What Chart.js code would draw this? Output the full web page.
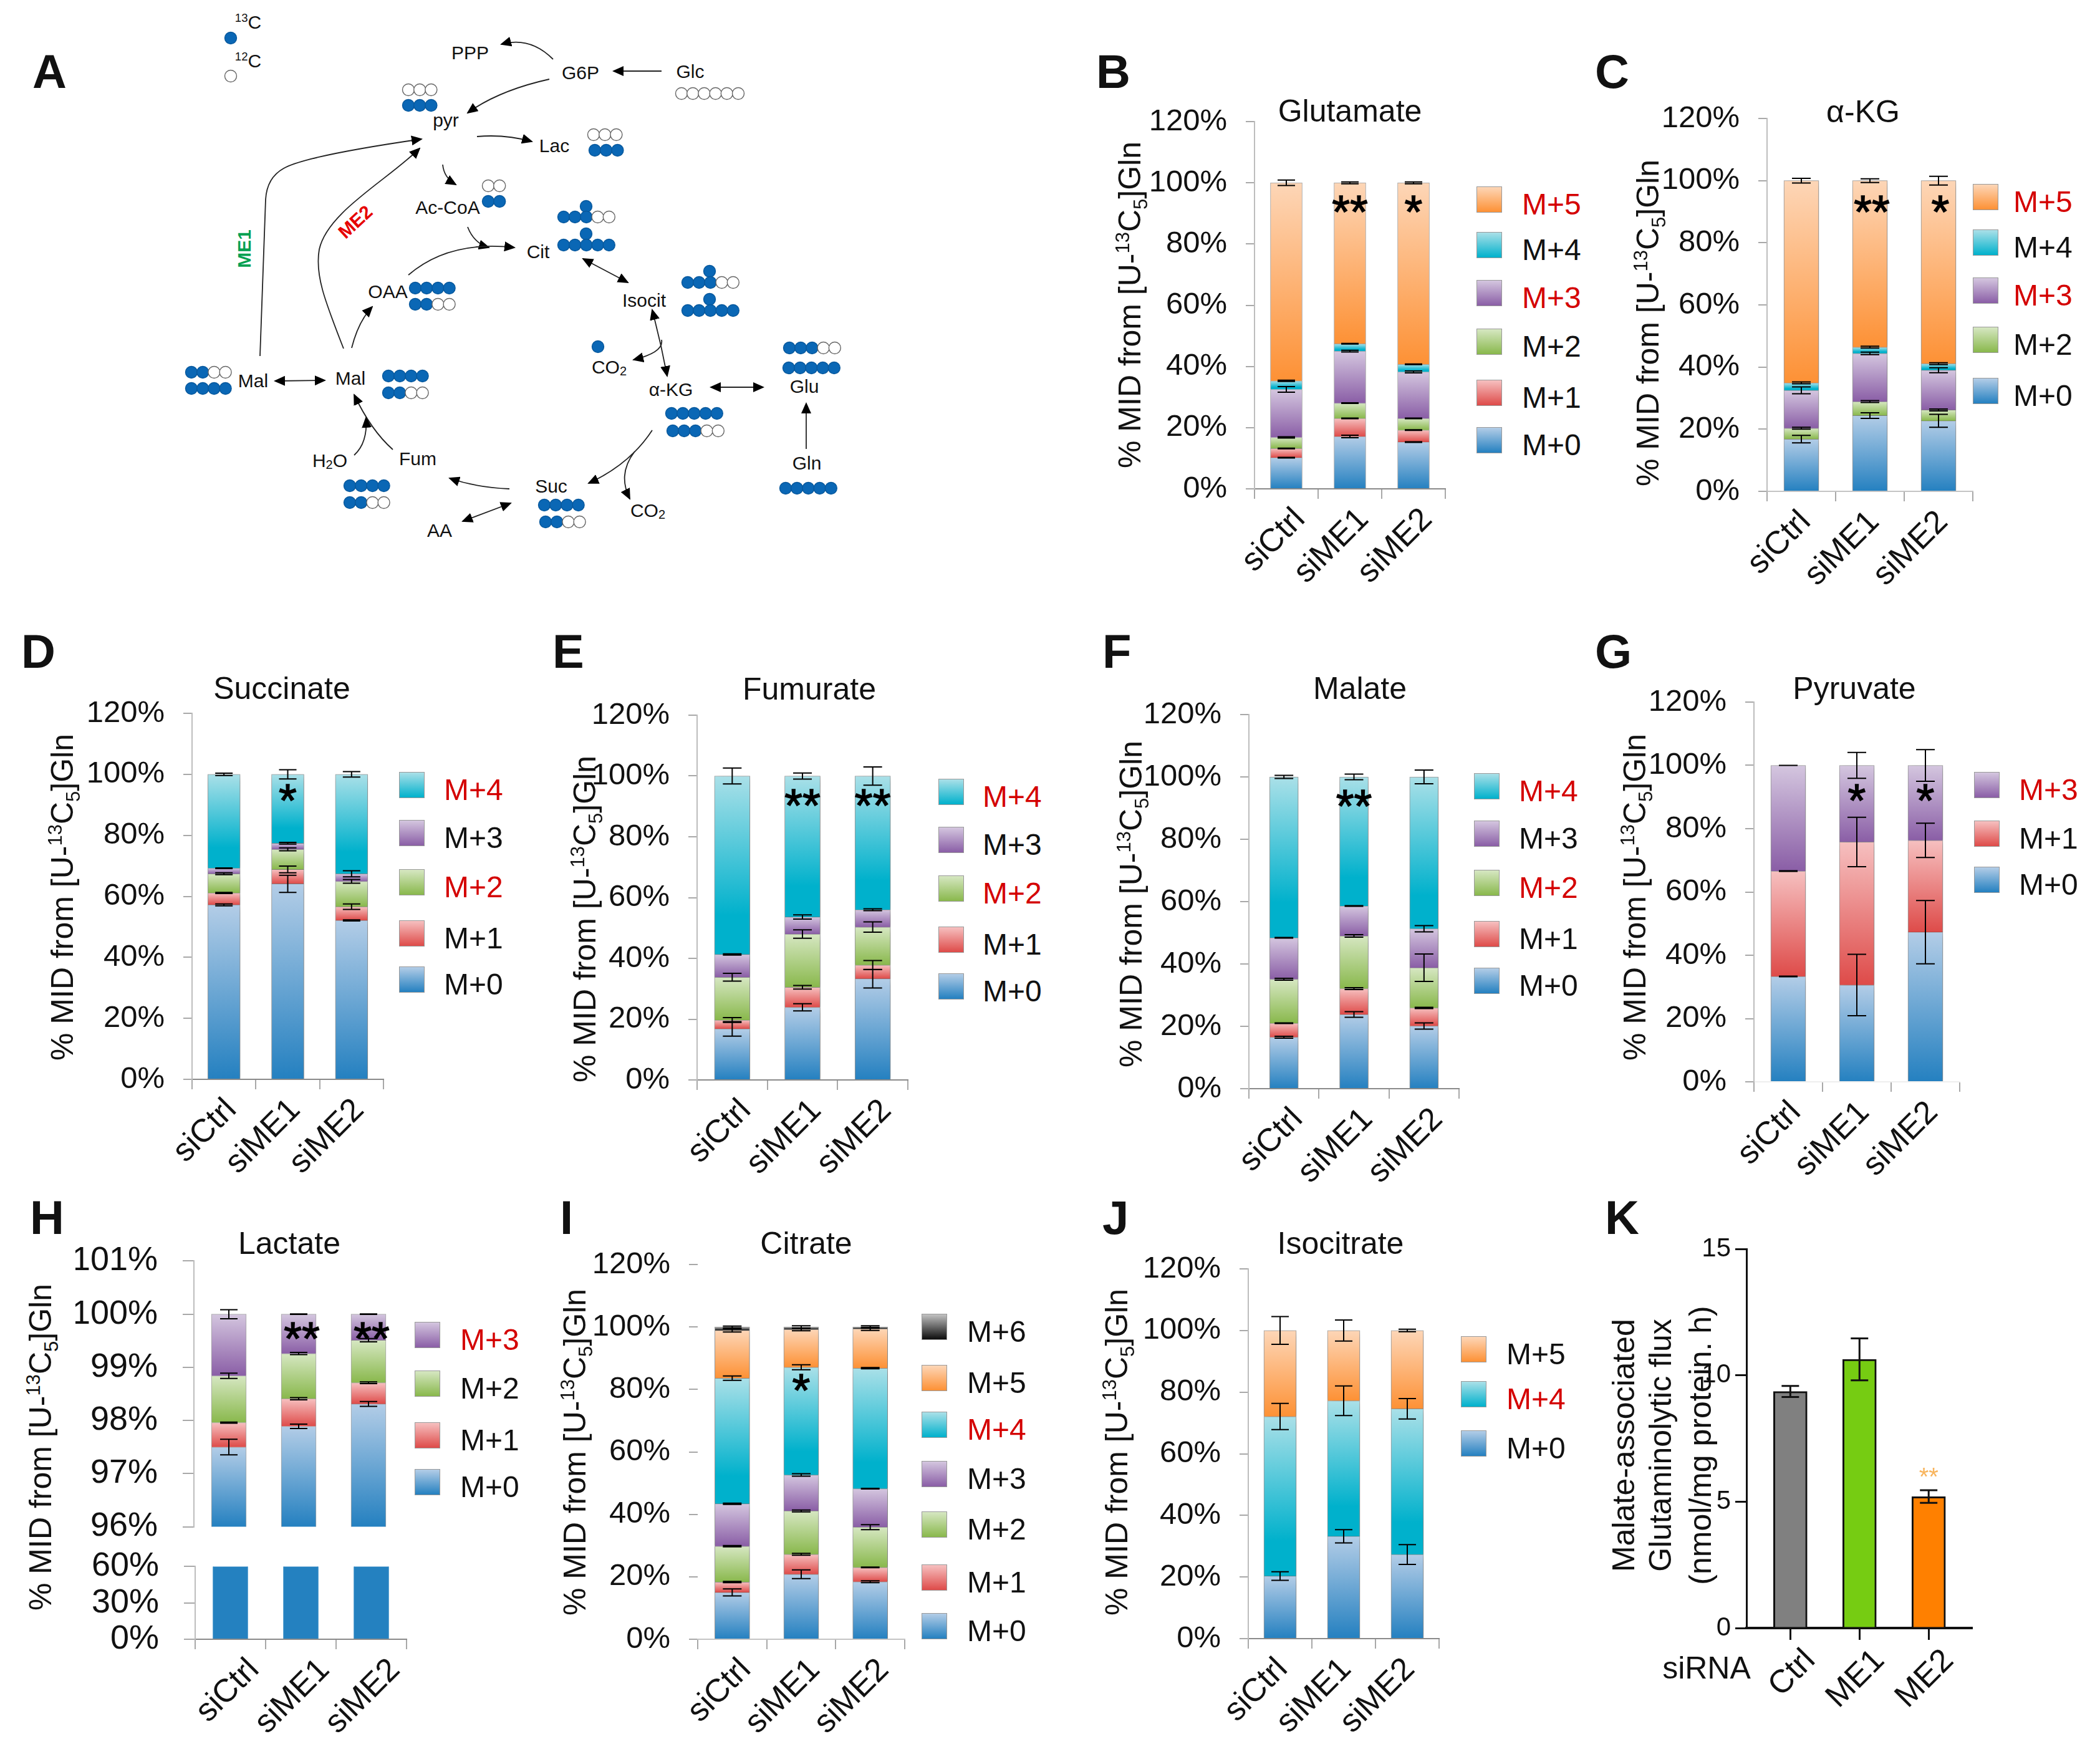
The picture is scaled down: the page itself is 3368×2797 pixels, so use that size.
<!DOCTYPE html>
<html>
<head>
<meta charset="utf-8">
<script src="https://cdn.jsdelivr.net/npm/chart.js@4"></script>
<style>
  html, body { margin: 0; background: #fff; }
  #page { position: relative; width: 3368px; height: 2797px; overflow: hidden; font-family: "Liberation Sans", Arial, sans-serif; color: #111; }
  #page canvas { position: absolute; }
  .t { position: absolute; white-space: nowrap; line-height: 1; transform: translate(-50%, -50%); }
  .t sup, .t sub { font-size: 62%; line-height: 0; }
  .swatch { position: absolute; width: 41px; height: 42px; box-sizing: border-box; border: 1px solid #999; }
  svg { position: absolute; left: 0; top: 0; }
  svg text { font-size: 30px; text-anchor: middle; dominant-baseline: central; fill: #111; }
</style>
</head>
<body>
<div id="page"></div>
<script>
const samples = ['siCtrl', 'siME1', 'siME2'];

// one row per isotopologue (bottom to top), one column per sample
const glutamateIso = ['M+0', 'M+1', 'M+2', 'M+3', 'M+4', 'M+5'];
const glutamate = [[10.2, 17.1, 15.3], [3.0, 5.9, 3.9], [3.6, 5.0, 3.8], [15.7, 17.0, 15.2], [2.8, 2.4, 2.5], [64.7, 52.6, 59.3]];
const glutamateErr = [[0.1, 0.4, 0.1], [0.1, 0.1, 0.1], [0.2, 0.1, 0.1], [0.9, 0.3, 0.3], [0.2, 0.1, 0.1], [0.9, 0.3, 0.3]];

const akgIso = ['M+0', 'M+2', 'M+3', 'M+4', 'M+5'];
const akg = [[16.8, 24.4, 22.7], [3.5, 4.5, 3.5], [12.2, 15.5, 12.8], [2.4, 2.0, 2.1], [65.1, 53.6, 58.9]];
const akgErr = [[1.2, 0.9, 2.1], [0.3, 0.3, 0.3], [1.1, 0.4, 0.8], [0.3, 0.3, 0.3], [0.75, 0.6, 1.4]];

const succinateIso = ['M+0', 'M+1', 'M+2', 'M+3', 'M+4'];
const succinate = [[57.2, 64.1, 52.1], [3.9, 4.7, 4.5], [6.3, 6.6, 8.3], [1.8, 2.0, 2.5], [30.8, 22.6, 32.6]];
const succinateErr = [[0.3, 2.8, 0.2], [0.2, 1.1, 0.9], [0.3, 0.5, 0.6], [0.1, 0.3, 1.0], [0.4, 1.5, 0.9]];

const fumarateIso = ['M+0', 'M+1', 'M+2', 'M+3', 'M+4'];
const fumarate = [[16.8, 23.9, 33.3], [2.9, 6.6, 4.5], [14.1, 17.5, 12.5], [7.5, 5.6, 5.7], [58.7, 46.4, 44.0]];
const fumarateErr = [[2.4, 1.2, 3.05], [0.8, 0.6, 1.5], [1.3, 1.4, 1.7], [0.2, 0.7, 0.3], [2.6, 1.0, 3.0]];

const malateIso = ['M+0', 'M+1', 'M+2', 'M+3', 'M+4'];
const malate = [[16.5, 23.8, 20.1], [4.5, 8.3, 5.8], [14.1, 16.9, 12.9], [13.3, 9.6, 12.5], [51.6, 41.4, 48.7]];
const malateErr = [[0.3, 0.9, 1.0], [0.1, 0.3, 0.2], [0.3, 0.4, 4.4], [0.1, 0.1, 1.0], [0.5, 0.9, 2.2]];

const pyruvateIso = ['M+0', 'M+1', 'M+3'];
const pyruvate = [[33.3, 30.6, 47.3], [33.3, 45.2, 29.0], [33.4, 24.2, 23.7]];
const pyruvateErr = [[0.1, 9.7, 10.0], [0.1, 7.8, 5.4], [0, 4.1, 5.0]];

const lactateIso = ['M+0', 'M+1', 'M+2', 'M+3'];
const lactate = [[97.5, 97.89, 98.31], [0.46, 0.52, 0.40], [0.88, 0.85, 0.80], [1.16, 0.74, 0.49]];
const lactateErr = [[0.146, 0.04, 0.045], [0.01, 0.02, 0.015], [0.05, 0.02, 0.03], [0.085, 0.005, 0.005]];

const citrateIso = ['M+0', 'M+1', 'M+2', 'M+3', 'M+4', 'M+5', 'M+6'];
const citrate = [[15.0, 20.8, 18.4], [3.3, 6.4, 4.6], [11.5, 13.9, 12.9], [13.6, 11.5, 12.3], [40.2, 34.5, 38.6], [15.3, 12.1, 12.6], [1.1, 0.8, 0.6]];
const citrateErr = [[1.1, 1.4, 0.3], [0.2, 0.3, 0.1], [0.2, 0.3, 0.8], [0.2, 0.4, 0.1], [0.7, 0.8, 0.2], [0.5, 0.4, 0.5], [0.3, 0.4, 0.4]];

const isocitrateIso = ['M+0', 'M+4', 'M+5'];
const isocitrate = [[20.3, 33.2, 27.3], [51.8, 44.0, 47.3], [27.9, 22.8, 25.4]];
const isocitrateErr = [[1.4, 2.15, 3.2], [4.25, 4.8, 3.3], [4.5, 3.4, 0.4]];

const fluxLabels = ['Ctrl', 'ME1', 'ME2'];
const flux = [9.36, 10.63, 5.2];
const fluxErr = [0.22, 0.83, 0.25];

const percentTicks = [0, 20, 40, 60, 80, 100, 120];
const lactateTopTicks = [96, 97, 98, 99, 100, 101];
const lactateBottomTicks = [0, 30, 60];
const fluxTicks = [0, 5, 10, 15];

// top light, bottom saturated, last number = where saturation is reached
const isoColors = {
  'M+0': ['#b3cde7', '#2480c0', 1],
  'M+1': ['#f6c0c0', '#de4b49', 1],
  'M+2': ['#d6e7c2', '#89b84c', 1],
  'M+3': ['#d4c6df', '#8a5ea6', 1],
  'M+4': ['#aae0e8', '#00b1cc', 0.78],
  'M+5': ['#fdd6b7', '#fd9135', 1],
  'M+6': ['#c2c2c2', '#0c0c0c', 1]
};
const red = '#d40000';
const page = document.getElementById('page');

function text(html, x, y, size, opts) {
  opts = opts || {};
  const d = document.createElement('div');
  d.className = 't';
  d.innerHTML = html;
  d.style.left = x + 'px';
  d.style.top = y + 'px';
  d.style.fontSize = size + 'px';
  if (opts.bold) d.style.fontWeight = 'bold';
  if (opts.color) d.style.color = opts.color;
  if (opts.left) d.style.transform = 'translate(0,-50%)';
  if (opts.rot) d.style.transform = 'translate(-50%,-50%) rotate(' + opts.rot + 'deg)';
  page.appendChild(d);
}

function panelLetter(ch, x, baseline) {
  const d = document.createElement('div');
  d.className = 't';
  d.textContent = ch;
  d.style.cssText = 'left:' + x + 'px;top:' + (baseline - 65) + 'px;font-size:76px;font-weight:bold;transform:none;line-height:76px';
  page.appendChild(d);
}

const yTitle = '% MID from [U-<sup>13</sup>C<sub>5</sub>]Gln';

function legend(names, redNames, x, tops, textX) {
  // top of the list is the last isotopologue
  names.slice().reverse().forEach((name, i) => {
    const c = isoColors[name];
    const s = document.createElement('div');
    s.className = 'swatch';
    s.style.left = x + 'px';
    s.style.top = tops[i] + 'px';
    s.style.background = 'linear-gradient(' + c[0] + ',' + c[1] + ')';
    page.appendChild(s);
    text(name, textX, tops[i] + 29, 48, { left: true, color: redNames.includes(name) ? red : '#111' });
  });
}

function errorBarsPlugin(series, errs, capW, lineW) {
  return {
    id: 'errorBars',
    afterDatasetsDraw(chart) {
      const c = chart.ctx, xs = chart.scales.x, ys = chart.scales.y;
      c.save();
      c.strokeStyle = '#000';
      c.lineWidth = lineW;
      samples.forEach((s, i) => {
        let cum = 0;
        series.forEach((row, k) => {
          cum += row[i];
          const px = xs.getPixelForValue(i);
          const hi = ys.getPixelForValue(cum + errs[k][i]);
          const lo = ys.getPixelForValue(cum - errs[k][i]);
          c.beginPath();
          c.moveTo(px, hi); c.lineTo(px, lo);
          c.moveTo(px - capW, hi); c.lineTo(px + capW, hi);
          c.moveTo(px - capW, lo); c.lineTo(px + capW, lo);
          c.stroke();
        });
      });
      c.restore();
    }
  };
}

function starsPlugin(stars, level, shift) {
  return {
    id: 'stars',
    afterDraw(chart) {
      const c = chart.ctx;
      c.save();
      c.font = '74px "Liberation Sans"';
      c.fillStyle = '#000';
      c.strokeStyle = '#000';
      c.lineWidth = 1.5;
      c.textAlign = 'center';
      c.textBaseline = 'middle';
      stars.forEach((s, i) => {
        if (!s) return;
        const px = chart.scales.x.getPixelForValue(i) + (shift || 0), py = chart.scales.y.getPixelForValue(level) + 18;
        c.fillText(s, px, py);
        c.strokeText(s, px, py);
      });
      c.restore();
    }
  };
}

const shadowPlugin = {
  id: 'softShadow',
  beforeDatasetDraw(chart) {
    const c = chart.ctx;
    c.shadowColor = 'rgba(0,0,0,0.28)';
    c.shadowBlur = 12;
    c.shadowOffsetX = 3;
    c.shadowOffsetY = 3;
  },
  afterDatasetDraw(chart) {
    const c = chart.ctx;
    c.shadowColor = 'transparent';
    c.shadowBlur = 0;
    c.shadowOffsetX = 0;
    c.shadowOffsetY = 0;
  }
};

function newCanvas(left, top, w, h) {
  const cv = document.createElement('canvas');
  cv.width = w; cv.height = h;
  cv.style.left = left + 'px';
  cv.style.top = top + 'px';
  page.appendChild(cv);
  return cv;
}

function segmentFill(iso, series, k) {
  return ctx => {
    const c = isoColors[iso];
    if (ctx.type !== 'data') return c[1];
    const y = ctx.chart.scales.y, i = ctx.dataIndex;
    let cum = 0;
    for (let j = 0; j < k; j++) cum += series[j][i];
    const top = y.getPixelForValue(cum + series[k][i]);
    const bottom = y.getPixelForValue(Math.max(cum, y.min));
    if (!isFinite(top) || !isFinite(bottom)) return c[1];
    const g = ctx.chart.ctx.createLinearGradient(0, top, 0, bottom);
    g.addColorStop(0, c[0]);
    g.addColorStop(c[2], c[1]);
    g.addColorStop(1, c[1]);
    return g;
  };
}

// p: plot rect in page pixels, series drawn as stacked bars through Chart.js scales
function stackedChart(p) {
  const L = 190, T = 70, R = 40, B = p.noX ? 70 : 240;
  const cv = newCanvas(p.x0 - L, p.yTop - T, p.x1 - p.x0 + L + R, p.yBottom - p.yTop + T + B);
  const plugins = [];
  if (p.shadow) plugins.push(shadowPlugin);
  if (p.errs) plugins.push(errorBarsPlugin(p.series, p.errs, p.capW || 14, 2));
  if (p.stars) plugins.push(starsPlugin(p.stars, p.starLevel, p.starShift));
  return new Chart(cv, {
    type: 'bar',
    data: {
      labels: samples,
      datasets: p.series.map((row, k) => ({
        label: p.iso[k],
        data: row,
        backgroundColor: p.solid || segmentFill(p.iso[k], p.series, k),
        borderColor: p.solid ? p.solid : 'rgba(50,50,50,0.45)',
        borderWidth: 1,
        barThickness: p.barW
      }))
    },
    options: {
      responsive: false,
      animation: false,
      devicePixelRatio: 1,
      layout: { padding: { top: T, right: R, bottom: p.noX ? B : 0, left: 0 } },
      plugins: { legend: { display: false }, tooltip: { enabled: false } },
      scales: {
        x: {
          display: !p.noX,
          stacked: true,
          afterFit: s => { s.height = p.noX ? 0 : B; },
          border: { color: p.xLine || '#8a8a8a', width: 2 },
          grid: { drawOnChartArea: false, tickLength: 16, color: '#a8a8a8', lineWidth: 2 },
          ticks: { autoSkip: false, maxRotation: 45, minRotation: 45, padding: 3, labelOffset: p.labelOffset === undefined ? 22 : p.labelOffset, color: '#111', font: { family: 'Liberation Sans', size: 52 } }
        },
        y: {
          stacked: true,
          min: p.ticks[0],
          max: p.ticks[p.ticks.length - 1],
          afterFit: s => { s.width = L; },
          afterBuildTicks: s => { s.ticks = p.ticks.map(v => ({ value: v })); },
          border: { display: p.yLine !== 'none', color: p.yLine || '#bdbdbd', width: 2 },
          grid: { drawOnChartArea: false, tickLength: p.tickLen || 14, color: '#a8a8a8', lineWidth: 2 },
          ticks: { autoSkip: false, padding: p.tickPad || 30, color: '#111', callback: v => v + '%', font: { family: 'Liberation Sans', size: p.tickSize || 49 } }
        }
      }
    },
    plugins
  });
}

// panel B
stackedChart({ x0: 2012, x1: 2318, yTop: 195, yBottom: 784, series: glutamate, errs: glutamateErr, iso: glutamateIso, ticks: percentTicks, barW: 51, stars: ['', '**', '*'], starLevel: 93.2 });
text('Glutamate', 2165, 178, 50);
text(yTitle, 1812, 489, 50, { rot: -90 });
legend(glutamateIso, ['M+5', 'M+3'], 2368, [299, 372, 449, 527, 609, 685], 2441);
panelLetter('B', 1758, 142);

// panel C
stackedChart({ x0: 2834, x1: 3164, yTop: 190, yBottom: 788, series: akg, errs: akgErr, iso: akgIso, ticks: percentTicks, barW: 56, stars: ['', '**', '*'], starLevel: 92.6, starShift: 3, shadow: true, xLine: '#c4c4c4', capW: 15, labelOffset: 7 });
text('α-KG', 2988, 179, 50);
text(yTitle, 2643, 518, 50, { rot: -90 });
legend(akgIso, ['M+5', 'M+3'], 3164, [295, 368, 445, 524, 606], 3229);
panelLetter('C', 2558, 142);

// panel D
stackedChart({ x0: 308, x1: 615, yTop: 1144, yBottom: 1731, series: succinate, errs: succinateErr, iso: succinateIso, ticks: percentTicks, barW: 52, stars: ['', '*', ''], starLevel: 94.1, shadow: true, capW: 14, labelOffset: 12 });
text('Succinate', 452, 1104, 50);
text(yTitle, 100, 1439, 50, { rot: -90 });
legend(succinateIso, ['M+4', 'M+2'], 640, [1238, 1315, 1394, 1476, 1550], 712);
panelLetter('D', 34, 1072);

// panel E
stackedChart({ x0: 1118, x1: 1456, yTop: 1147, yBottom: 1732, series: fumarate, errs: fumarateErr, iso: fumarateIso, ticks: percentTicks, barW: 57, stars: ['', '**', '**'], starLevel: 93, shadow: true, capW: 15 });
text('Fumurate', 1298, 1105, 50);
text(yTitle, 938, 1474, 50, { rot: -90 });
legend(fumarateIso, ['M+4', 'M+2'], 1505, [1249, 1326, 1404, 1486, 1561], 1576);
panelLetter('E', 886, 1072);

// panel F
stackedChart({ x0: 2003, x1: 2340, yTop: 1146, yBottom: 1746, series: malate, errs: malateErr, iso: malateIso, ticks: percentTicks, barW: 46, stars: ['', '**', ''], starLevel: 93.2, shadow: true, capW: 15 });
text('Malate', 2181, 1104, 50);
text(yTitle, 1814, 1450, 50, { rot: -90 });
legend(malateIso, ['M+4', 'M+2'], 2364, [1240, 1316, 1395, 1477, 1552], 2436);
panelLetter('F', 1768, 1072);

// panel G
stackedChart({ x0: 2813, x1: 3143, yTop: 1126, yBottom: 1735, series: pyruvate, errs: pyruvateErr, iso: pyruvateIso, ticks: percentTicks, barW: 56, stars: ['', '*', '*'], starLevel: 91.5, shadow: true, xLine: '#eeeeee', capW: 15, labelOffset: 12 });
text('Pyruvate', 2974, 1104, 50);
text(yTitle, 2622, 1439, 50, { rot: -90 });
legend(pyruvateIso, ['M+3'], 3166, [1238, 1316, 1390], 3238);
panelLetter('G', 2558, 1072);

// panel H, broken axis: two charts of the same series
stackedChart({ x0: 311, x1: 647, yTop: 2020, yBottom: 2451, series: lactate, errs: lactateErr, iso: lactateIso, ticks: lactateTopTicks, barW: 56, stars: ['', '**', '**'], starLevel: 99.69, starShift: 5, noX: true, capW: 14, tickSize: 54, tickLen: 18, tickPad: 40 });
stackedChart({ x0: 313, x1: 652, yTop: 2510, yBottom: 2629, series: [lactate[0]], iso: ['M+0'], ticks: lactateBottomTicks, barW: 56, solid: '#2481c0', labelOffset: 38, tickSize: 54, tickLen: 18, tickPad: 40 });
text('Lactate', 464, 1994, 50);
text(yTitle, 65, 2321, 50, { rot: -90 });
legend(lactateIso, ['M+3'], 665, [2120, 2198, 2281, 2356], 738);
panelLetter('H', 48, 1980);

// panel I
stackedChart({ x0: 1119, x1: 1451, yTop: 2028, yBottom: 2629, series: citrate, errs: citrateErr, iso: citrateIso, ticks: percentTicks, barW: 56, stars: ['', '*', ''], starLevel: 82.3, shadow: true, yLine: 'none', xLine: '#c4c4c4', capW: 15 });
text('Citrate', 1293, 1994, 50);
text(yTitle, 922, 2329, 50, { rot: -90 });
legend(citrateIso, ['M+4'], 1478, [2107, 2189, 2264, 2343, 2424, 2509, 2587], 1551);
panelLetter('I', 898, 1980);

// panel J
stackedChart({ x0: 2002, x1: 2308, yTop: 2035, yBottom: 2628, series: isocitrate, errs: isocitrateErr, iso: isocitrateIso, ticks: percentTicks, barW: 52, shadow: true, capW: 14, labelOffset: 4 });
text('Isocitrate', 2150, 1994, 50);
text(yTitle, 1791, 2329, 50, { rot: -90 });
legend(isocitrateIso, ['M+4'], 2343, [2143, 2215, 2294], 2416);
panelLetter('J', 1768, 1980);

// panel K, x is linear so the axis can run past the bars
(function () {
  const x0 = 2801, x1 = 3162, yTop = 2003, yBottom = 2611, L = 190, T = 50, R = 40, B = 240;
  const cv = newCanvas(x0 - L, yTop - T, x1 - x0 + L + R, yBottom - yTop + T + B);
  new Chart(cv, {
    type: 'bar',
    data: {
      datasets: [{
        data: flux.map((y, x) => ({ x, y })),
        backgroundColor: ['#808080', '#76cc12', '#ff8000'],
        borderColor: '#111',
        borderWidth: 3,
        barThickness: 54
      }]
    },
    options: {
      responsive: false,
      animation: false,
      devicePixelRatio: 1,
      layout: { padding: { top: T, right: R, bottom: 0, left: 0 } },
      plugins: { legend: { display: false }, tooltip: { enabled: false } },
      scales: {
        x: {
          type: 'linear',
          offset: false,
          min: -0.634,
          max: 2.62,
          afterFit: s => { s.height = B; },
          afterBuildTicks: s => { s.ticks = fluxLabels.map((l, i) => ({ value: i })); },
          border: { color: '#111', width: 4 },
          grid: { offset: false, drawOnChartArea: false, tickLength: 19, color: '#111', lineWidth: 3 },
          ticks: { autoSkip: false, maxRotation: 45, minRotation: 45, padding: 3, labelOffset: 32, color: '#111', callback: v => fluxLabels[v], font: { family: 'Liberation Sans', size: 52 } }
        },
        y: {
          min: fluxTicks[0],
          max: fluxTicks[fluxTicks.length - 1],
          afterFit: s => { s.width = L; },
          afterBuildTicks: s => { s.ticks = fluxTicks.map(v => ({ value: v })); },
          border: { color: '#111', width: 3 },
          grid: { drawOnChartArea: false, tickLength: 18, color: '#111', lineWidth: 3 },
          ticks: { autoSkip: false, padding: 7, color: '#111', font: { family: 'Liberation Sans', size: 42 } }
        }
      }
    },
    plugins: [{
      id: 'fluxMarks',
      afterDatasetsDraw(chart) {
        const c = chart.ctx, xs = chart.scales.x, ys = chart.scales.y;
        c.save();
        c.strokeStyle = '#111';
        c.lineWidth = 3;
        flux.forEach((v, i) => {
          const px = xs.getPixelForValue(i), hi = ys.getPixelForValue(v + fluxErr[i]), lo = ys.getPixelForValue(v - fluxErr[i]);
          c.beginPath();
          c.moveTo(px, hi); c.lineTo(px, lo);
          c.moveTo(px - 14, hi); c.lineTo(px + 14, hi);
          c.moveTo(px - 14, lo); c.lineTo(px + 14, lo);
          c.stroke();
        });
        c.font = '40px "Liberation Sans"';
        c.fillStyle = '#f8b55e';
        c.textAlign = 'center';
        c.textBaseline = 'middle';
        c.fillText('**', xs.getPixelForValue(2), ys.getPixelForValue(6.12) + 8);
        c.restore();
      }
    }]
  });
})();
text('Malate-associated', 2604, 2318, 50, { rot: -90 });
text('Glutaminolytic flux', 2663, 2318, 50, { rot: -90 });
text('(nmol/mg protein. h)', 2727, 2318, 50, { rot: -90 });
text('siRNA', 2737, 2675, 50);
panelLetter('K', 2574, 1980);

// panel A, pathway sketch
panelLetter('A', 52, 142);
const NS = 'http://www.w3.org/2000/svg';
const svg = document.createElementNS(NS, 'svg');
svg.setAttribute('width', 1400);
svg.setAttribute('height', 900);
page.appendChild(svg);

const defs = document.createElementNS(NS, 'defs');
defs.innerHTML = '<marker id="head" markerUnits="userSpaceOnUse" markerWidth="18" markerHeight="16" refX="16" refY="8" orient="auto-start-reverse"><path d="M0 0L18 8L0 16Z" fill="#000"/></marker>';
svg.appendChild(defs);

function arrow(d, both) {
  const p = document.createElementNS(NS, 'path');
  p.setAttribute('d', d);
  p.setAttribute('fill', 'none');
  p.setAttribute('stroke', '#222');
  p.setAttribute('stroke-width', 1.8);
  p.setAttribute('marker-end', 'url(#head)');
  if (both) p.setAttribute('marker-start', 'url(#head)');
  svg.appendChild(p);
}
function dots(pattern, x, y, step) {
  [...pattern].forEach((ch, i) => {
    const c = document.createElementNS(NS, 'circle');
    c.setAttribute('cx', x + i * (step || 18.2));
    c.setAttribute('cy', y);
    c.setAttribute('r', 9.5);
    c.setAttribute('fill', ch === 'o' ? '#fff' : '#0a67b5');
    c.setAttribute('stroke', ch === 'o' ? '#666' : '#08589c');
    c.setAttribute('stroke-width', 1.4);
    svg.appendChild(c);
  });
}
function node(label, x, y) {
  const t = document.createElementNS(NS, 'text');
  t.setAttribute('x', x);
  t.setAttribute('y', y);
  t.innerHTML = label;
  svg.appendChild(t);
}
const sub2 = '<tspan font-size="20" dy="7">2</tspan>';
arrow('M887 95 Q850 58 804 71');
arrow('M881 127 Q800 145 750 181');
arrow('M1061 114 L984 114');
arrow('M765 219 Q810 215 853 227');
arrow('M710 264 Q712 285 731 296');
arrow('M750 364 Q760 390 784 397');
arrow('M655 441 Q720 385 825 397');
arrow('M935 415 L1007 453', true);
arrow('M1046 497 Q1060 550 1070 603', true);
arrow('M1061 545 Q1065 565 1016 577');
arrow('M564 558 Q575 515 597 492');
arrow('M441 611 L521 610', true);
arrow('M417 571 L426 320 Q428 285 455 270 Q490 250 676 223');
arrow('M551 559 C520 480 505 440 512 400 C525 340 620 290 673 238');
arrow('M630 721 Q595 690 568 633');
arrow('M568 730 Q590 710 587 670');
arrow('M817 784 Q765 782 721 767');
arrow('M819 807 L742 836', true);
arrow('M1046 690 Q1010 745 944 775');
arrow('M1018 724 Q990 760 1010 800');
arrow('M1140 621 L1224 621', true);
arrow('M1293 720 L1293 647');

node('PPP', 754, 84); node('G6P', 931, 116); node('Glc', 1107, 114);
node('pyr', 715, 192); node('Lac', 889, 233); node('Ac-CoA', 718, 332);
node('Cit', 863, 403); node('OAA', 622, 467); node('Isocit', 1033, 481);
node('CO' + sub2, 977, 588); node('α-KG', 1076, 624); node('Glu', 1290, 619);
node('Gln', 1294, 742); node('Mal', 406, 610); node('Mal', 562, 606);
node('Fum', 670, 735); node('H' + sub2 + '<tspan dy="-7">O</tspan>', 529, 738);
node('Suc', 884, 779); node('CO' + sub2, 1039, 818); node('AA', 705, 850);

dots('x', 370, 61); dots('o', 370, 122);
dots('oooooo', 1093, 150); dots('ooo', 655, 144); dots('xxx', 655, 169);
dots('ooo', 952, 216); dots('xxx', 954, 241);
dots('oo', 783, 298); dots('xx', 783, 323);
dots('x', 940, 331); dots('xxxoo', 904, 348);
dots('x', 940, 375); dots('xxxxx', 904, 393);
dots('x', 1138, 435); dots('xxxoo', 1103, 453);
dots('x', 1138, 480); dots('xxxxx', 1103, 498);
dots('xxxx', 666, 462); dots('xxoo', 666, 488);
dots('xxoo', 307, 597); dots('xxxx', 307, 623);
dots('xxxx', 623, 603); dots('xxoo', 623, 630);
dots('x', 959, 556);
dots('xxxxx', 1077, 663); dots('xxxoo', 1079, 691);
dots('xxxoo', 1266, 558); dots('xxxxx', 1265, 590); dots('xxxxx', 1260, 783);
dots('xxxx', 873, 810); dots('xxoo', 875, 837);
dots('xxxx', 561, 779); dots('xxoo', 561, 806);

text('<sup>13</sup>C', 398, 36, 30);
text('<sup>12</sup>C', 398, 98, 30);
text('ME1', 392, 399, 30, { bold: true, color: '#00a04f', rot: -90 });
text('ME2', 570, 356, 30, { bold: true, color: '#e60000', rot: -43 });
</script>
</body>
</html>
